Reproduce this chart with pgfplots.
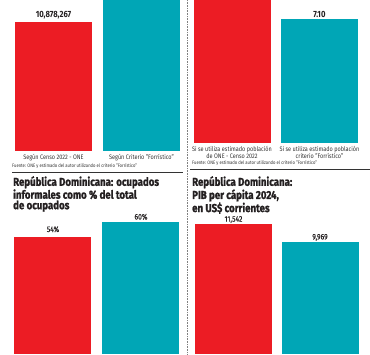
\documentclass[border=0pt]{standalone}
\usepackage{pgfplots}
\pgfplotsset{compat=1.18}
\usepackage{fontspec}
\setmainfont{Fira Sans}[FakeStretch=0.85]
\newfontfamily\titlefont{Fira Sans}[FakeStretch=0.84, FakeBold=1.3]
\newfontfamily\medfont{Fira Sans}[FakeStretch=0.85, FakeBold=0.25]
\definecolor{cred}{HTML}{EC1C24}
\definecolor{cteal}{HTML}{00A6B6}
\definecolor{ctext}{HTML}{333333}
\definecolor{ctitle}{HTML}{231F20}
\begin{document}
\begin{tikzpicture}
\useasboundingbox (0pt,0pt) rectangle (370pt,-354pt);
\pgfplotsset{
  panel/.style={scale only axis, axis line style={draw=none}, major tick length=0pt,
    ytick=\empty, xtick={0,1}, xmin=-0.5, xmax=1.5, clip=true, anchor=south west,
    ybar, bar shift=0pt,
    every axis plot/.append style={draw=none, bar width=77pt},
    xticklabel style={font=\fontsize{6.5}{7}\selectfont, text=ctext, align=center}},
  vlab/.style={every node near coord/.append style={font=#1, text=ctitle, anchor=base, inner sep=0pt}},
}
% top-left
\begin{axis}[panel, at={(9.5pt,-151pt)}, width=176pt, height=151pt, ymin=0, ymax=12733000,
  xticklabels={Según Censo 2022 - ONE, Según Criterio "Forrístico"}]
\addplot[fill=cred, nodes near coords={10{,}878{,}267}, vlab=\bfseries\fontsize{9}{9}\selectfont,
  every node near coord/.append style={yshift=4pt}] coordinates {(0,10878267)};
\addplot[fill=cteal] coordinates {(1,13300000)};
\end{axis}
% top-right
\begin{axis}[panel, at={(188.25pt,-143pt)}, width=175pt, height=143pt, ymin=0, ymax=8.19,
  xticklabels={{Si se utiliza estimado población\\de ONE - Censo 2022},{Si se utiliza estimado población\\criterio "Forrístico"}}]
\addplot[fill=cred] coordinates {(0,8.6)};
\addplot[fill=cteal, nodes near coords={7.10}, vlab=\bfseries\fontsize{9}{9}\selectfont,
  every node near coord/.append style={yshift=2pt}] coordinates {(1,7.10)};
\end{axis}
% bottom-left
\begin{axis}[panel, at={(9pt,-354pt)}, width=176pt, height=144pt, ymin=7.2, ymax=64.8, xtick=\empty]
\addplot[fill=cred, nodes near coords={54\%}, vlab=\medfont\fontsize{8}{8}\selectfont,
  every node near coord/.append style={yshift=5pt}] coordinates {(0,54)};
\addplot[fill=cteal, nodes near coords={60\%}, vlab=\medfont\fontsize{8}{8}\selectfont,
  every node near coord/.append style={yshift=2.5pt}] coordinates {(1,60)};
\end{axis}
% bottom-right
\begin{axis}[panel, at={(190.25pt,-354pt)}, width=173pt, height=144pt, ymin=175, ymax=12762, xtick=\empty]
\addplot[fill=cred, nodes near coords={11{,}542}, vlab=\medfont\fontsize{8}{8}\selectfont,
  every node near coord/.append style={yshift=2.3pt}] coordinates {(0,11542)};
\addplot[fill=cteal, nodes near coords={9{,}969}, vlab=\medfont\fontsize{8}{8}\selectfont,
  every node near coord/.append style={yshift=2.5pt}] coordinates {(1,9969)};
\end{axis}
% sources
\node[anchor=west, inner sep=0pt, font=\fontsize{4.9}{5}\selectfont, text=ctext] at (12pt,-166pt)
  {Fuente: ONE y estimado del autor utilizando el criterio "Forrístico"};
\node[anchor=west, inner sep=0pt, font=\fontsize{4.9}{5}\selectfont, text=ctext] at (192pt,-163pt)
  {Fuente: ONE y estimado del autor utilizando el criterio "Forrístico"};
% rules
\draw[ctext, line width=0.6pt] (12pt,-172pt) -- (183pt,-172pt);
\draw[ctext, line width=0.6pt] (190pt,-169pt) -- (370pt,-169pt);
\draw[gray, line width=0.5pt, dash pattern=on 0.6pt off 1pt] (187.5pt,0pt) -- (187.5pt,-354pt);
% titles
\node[anchor=north west, inner sep=0pt, align=left, text=ctitle,
  font=\titlefont\bfseries\fontsize{11.5}{10.5}\selectfont] at (13pt,-176pt)
  {República Dominicana: ocupados\\informales como \% del total\\de ocupados};
\node[anchor=north west, inner sep=0pt, align=left, text=ctitle,
  font=\titlefont\bfseries\fontsize{11.5}{10.5}\selectfont] at (192pt,-176pt)
  {República Dominicana:\\PIB per cápita 2024,\\en US\$ corrientes};
\end{tikzpicture}
\end{document}
